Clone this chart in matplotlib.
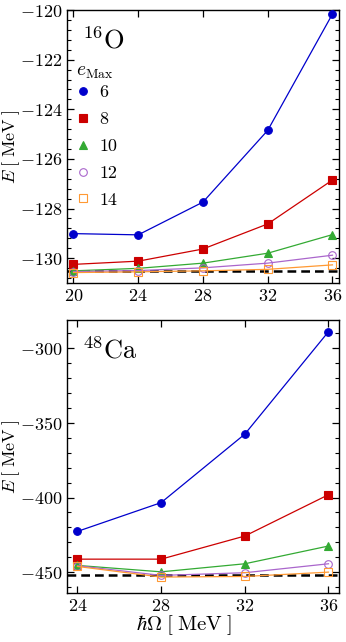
import matplotlib
matplotlib.use("Agg")
import matplotlib.pyplot as plt
from matplotlib.ticker import AutoMinorLocator, MultipleLocator

plt.rcParams["font.family"] = "serif"
plt.rcParams["font.serif"] = ["cmr10"]
plt.rcParams["mathtext.fontset"] = "cm"
plt.rcParams["axes.formatter.use_mathtext"] = True
plt.rcParams["axes.unicode_minus"] = True

# e_Max values and styles
emax = [6, 8, 10, 12, 14]
colors = ["#0000cc", "#cc0000", "#33aa33", "#aa66cc", "#ff9933"]
markers = ["o", "s", "^", "o", "s"]
filled = [True, True, True, False, False]

# 16O ground-state energies vs hbar*Omega
hw_o16 = [20, 24, 28, 32, 36]
e_o16 = [
    [-129.01, -129.06, -127.74, -124.85, -120.16],
    [-130.25, -130.12, -129.63, -128.62, -126.85],
    [-130.51, -130.41, -130.20, -129.80, -129.05],
    [-130.54, -130.50, -130.39, -130.20, -129.88],
    [-130.58, -130.55, -130.51, -130.45, -130.27],
]
ref_o16 = -130.52

# 48Ca ground-state energies vs hbar*Omega
hw_ca48 = [24, 28, 32, 36]
e_ca48 = [
    [-422.7, -403.4, -357.5, -288.8],
    [-441.3, -441.3, -425.8, -398.1],
    [-445.5, -449.8, -444.4, -432.5],
    [-445.7, -452.2, -450.4, -444.4],
    [-446.2, -453.3, -452.9, -450.0],
]
ref_ca48 = -452.2

fig = plt.figure(figsize=(3.46, 6.42), dpi=100)
ax1 = fig.add_axes([0.1936, 0.5592, 0.786, 0.4252])
ax2 = fig.add_axes([0.1936, 0.0763, 0.786, 0.4252])


def draw(ax, hw, data, ref):
    ax.axhline(ref, color="black", lw=1.8, ls=(0, (3.5, 2)), zorder=1)
    for k in range(len(emax)):
        fc = colors[k] if filled[k] else "none"
        ax.plot(hw, data[k], color=colors[k], lw=0.9, marker=markers[k],
                ms=5.5, mfc=fc, mec=colors[k], mew=0.8,
                label=str(emax[k]), clip_on=False, zorder=3)
    ax.tick_params(direction="in", which="both", top=True, right=True,
                   labelsize=13, pad=3.5)
    ax.tick_params(which="major", length=5, width=0.9)
    ax.tick_params(which="minor", length=3, width=0.8)
    ax.tick_params(axis="x", which="minor", top=False, bottom=False)
    ax.yaxis.set_minor_locator(AutoMinorLocator(5))
    ax.xaxis.set_major_locator(MultipleLocator(4))
    ax.set_ylabel(r"$E\;[\;\mathrm{MeV}\;]$", fontsize=13)
    ax.yaxis.set_label_coords(-0.165, 0.5)
    for s in ax.spines.values():
        s.set_linewidth(1.0)


draw(ax1, hw_o16, e_o16, ref_o16)
ax1.set_xlim(19.6, 36.4)
ax1.set_ylim(-131, -120)
ax1.yaxis.set_major_locator(MultipleLocator(2))
ax1.text(0.055, 0.94, r"$^{16}$O", transform=ax1.transAxes, fontsize=19,
         va="top", ha="left")
leg = ax1.legend(loc="upper left", bbox_to_anchor=(0.0, 0.845), frameon=False,
                 title=r"$e_{\rm Max}$", fontsize=13, title_fontsize=14,
                 handlelength=0.8, handletextpad=0.5, labelspacing=0.62,
                 borderpad=0.3, borderaxespad=0.2)
leg._legend_box.align = "left"
leg._legend_box.sep = 3
for line in leg.get_lines():
    line.set_linestyle("none")

draw(ax2, hw_ca48, e_ca48, ref_ca48)
ax2.set_xlim(23.5, 36.5)
ax2.set_ylim(-464, -281)
ax2.yaxis.set_major_locator(MultipleLocator(50))
ax2.text(0.055, 0.94, r"$^{48}$Ca", transform=ax2.transAxes, fontsize=19,
         va="top", ha="left")
ax2.set_xlabel(r"$\hbar\Omega\;[\;\mathrm{MeV}\;]$", fontsize=15)
ax2.xaxis.set_label_coords(0.43, -0.075)

fig.savefig("out.png", dpi=100)
